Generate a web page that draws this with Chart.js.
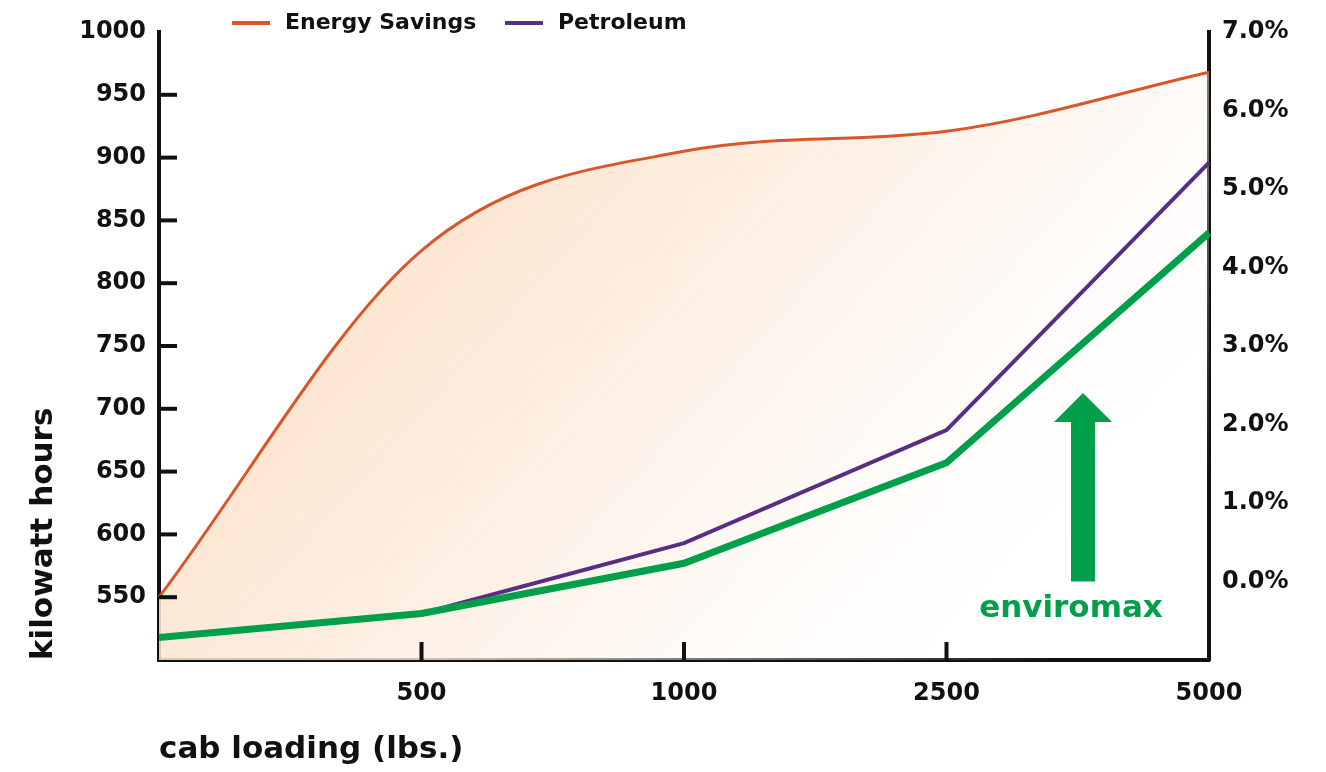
<!DOCTYPE html>
<html>
<head>
<meta charset="utf-8">
<script src="https://cdn.jsdelivr.net/npm/chart.js@4.4.1/dist/chart.umd.min.js"></script>
<style>
  html, body { margin: 0; padding: 0; background: #fff; }
  #wrap { width: 1326px; height: 772px; position: relative; }
</style>
</head>
<body>
<div id="wrap"><canvas id="cabChart"></canvas></div>
<script>
// カテゴリとデータ
const cabLoads = ['0', '500', '1000', '2500', '5000'];
const energySavings = [550, 826, 905, 921, 968];
const petroleum = [518, 537, 593, 683, 896];
const enviromax = [518, 537, 577, 657, 840];

// 右軸 (%) の目盛
const pctMin = -1;
const pctMax = 7;

// 矢印の位置 (データ座標)
const arrowAt = { index: 3.52, from: 0, to: 2.4, labelAt: -0.35 };

const ORANGE = '#D9562B';
const PURPLE = '#5A2D85';
const GREEN = '#00A04B';
const INK = '#111111';
const FONT = '"DejaVu Sans", Inter, sans-serif';

// 凡例 (手描き)
const legendItems = [
    { label: 'Energy Savings', color: ORANGE, x: 232 },
    { label: 'Petroleum', color: PURPLE, x: 505 }
];

const legendPlugin = {
    id: 'topLegend',
    afterDraw(chart) {
        const ctx = chart.ctx;
        ctx.save();
        ctx.font = `bold 22px ${FONT}`;
        ctx.fillStyle = INK;
        ctx.textBaseline = 'middle';
        legendItems.forEach(item => {
            ctx.strokeStyle = item.color;
            ctx.lineWidth = 4;
            ctx.beginPath();
            ctx.moveTo(item.x, 23);
            ctx.lineTo(item.x + 38, 23);
            ctx.stroke();
            ctx.fillText(item.label, item.x + 53, 23);
        });
        ctx.restore();
    }
};

// 内向きの目盛線と矢印
const marksPlugin = {
    id: 'marks',
    afterDatasetsDraw(chart) {
        const { ctx, chartArea, scales } = chart;
        ctx.save();
        ctx.strokeStyle = INK;
        ctx.lineWidth = 4;
        scales.y.ticks.forEach(t => {
            if (t.value <= 500 || t.value >= 1000) return;
            const y = scales.y.getPixelForValue(t.value);
            ctx.beginPath();
            ctx.moveTo(chartArea.left, y);
            ctx.lineTo(chartArea.left + 18, y);
            ctx.stroke();
        });
        for (let i = 1; i < cabLoads.length - 1; i++) {
            const x = scales.x.getPixelForValue(i);
            ctx.beginPath();
            ctx.moveTo(x, chartArea.bottom);
            ctx.lineTo(x, chartArea.bottom - 18);
            ctx.stroke();
        }

        // enviromax の矢印
        const ax = scales.x.getPixelForValue(arrowAt.index);
        const yBase = scales.y1.getPixelForValue(arrowAt.from);
        const yTip = scales.y1.getPixelForValue(arrowAt.to);
        ctx.fillStyle = GREEN;
        ctx.fillRect(ax - 12, yTip + 28, 24, yBase - yTip - 28);
        ctx.beginPath();
        ctx.moveTo(ax, yTip);
        ctx.lineTo(ax + 29, yTip + 29);
        ctx.lineTo(ax - 29, yTip + 29);
        ctx.closePath();
        ctx.fill();

        ctx.font = `bold 31px ${FONT}`;
        ctx.textAlign = 'center';
        ctx.textBaseline = 'middle';
        ctx.fillText('enviromax', ax - 12, scales.y1.getPixelForValue(arrowAt.labelAt));
        ctx.restore();
    }
};

function fillGradient(context) {
    const area = context.chart.chartArea;
    if (!area) return 'rgba(253,228,206,0.6)';
    const g = context.chart.ctx.createLinearGradient(area.left + 200, area.top, area.right - 150, area.bottom);
    g.addColorStop(0, 'rgba(252,219,190,0.95)');
    g.addColorStop(0.5, 'rgba(253,238,225,0.8)');
    g.addColorStop(1, 'rgba(255,255,255,0)');
    return g;
}

const tickFont = { family: FONT, size: 24, weight: 'bold' };

new Chart(document.getElementById('cabChart'), {
    type: 'line',
    data: {
        labels: cabLoads,
        datasets: [
            {
                label: 'enviromax',
                data: enviromax,
                borderColor: GREEN,
                borderWidth: 7,
                pointRadius: 0,
                tension: 0,
                fill: false,
                order: 0
            },
            {
                label: 'Petroleum',
                data: petroleum,
                borderColor: PURPLE,
                borderWidth: 4,
                pointRadius: 0,
                tension: 0,
                fill: false,
                order: 1
            },
            {
                label: 'Energy Savings',
                data: energySavings,
                borderColor: ORANGE,
                borderWidth: 3,
                pointRadius: 0,
                cubicInterpolationMode: 'monotone',
                fill: 'start',
                backgroundColor: fillGradient,
                order: 2
            }
        ]
    },
    options: {
        responsive: true,
        maintainAspectRatio: false,
        animation: false,
        layout: { padding: { top: 32, left: 0, right: 0, bottom: 0 } },
        plugins: {
            legend: { display: false },
            tooltip: { enabled: false }
        },
        scales: {
            x: {
                offset: false,
                grid: { display: false, drawTicks: false },
                border: { display: true, color: INK, width: 4 },
                ticks: {
                    color: INK,
                    font: tickFont,
                    padding: 19,
                    maxRotation: 0,
                    callback: (v, i) => (i === 0 ? '' : cabLoads[i])
                },
                title: {
                    display: true,
                    text: 'cab loading (lbs.)',
                    align: 'start',
                    color: INK,
                    font: { family: FONT, size: 31, weight: 'bold' },
                    padding: { top: 0, bottom: 3 }
                },
                afterFit: s => { s.height = 112; }
            },
            y: {
                position: 'left',
                min: 500,
                max: 1000,
                ticks: {
                    stepSize: 50,
                    color: INK,
                    font: tickFont,
                    padding: 13,
                    callback: v => (v === 500 ? '' : v)
                },
                grid: { display: false, drawTicks: false },
                border: { display: true, color: INK, width: 4 },
                title: {
                    display: true,
                    text: 'kilowatt hours',
                    align: 'start',
                    color: INK,
                    font: { family: FONT, size: 31, weight: 'bold' },
                    padding: { top: 25, bottom: 0 }
                },
                afterFit: s => { s.width = 159; }
            },
            y1: {
                position: 'right',
                min: pctMin,
                max: pctMax,
                ticks: {
                    stepSize: 1,
                    color: INK,
                    font: tickFont,
                    padding: 13,
                    callback: v => (v === pctMin ? '' : v.toFixed(1) + '%')
                },
                grid: { display: false, drawTicks: false },
                border: { display: true, color: INK, width: 4 },
                afterFit: s => { s.width = 117; }
            }
        }
    },
    plugins: [legendPlugin, marksPlugin]
});
</script>
</body>
</html>
